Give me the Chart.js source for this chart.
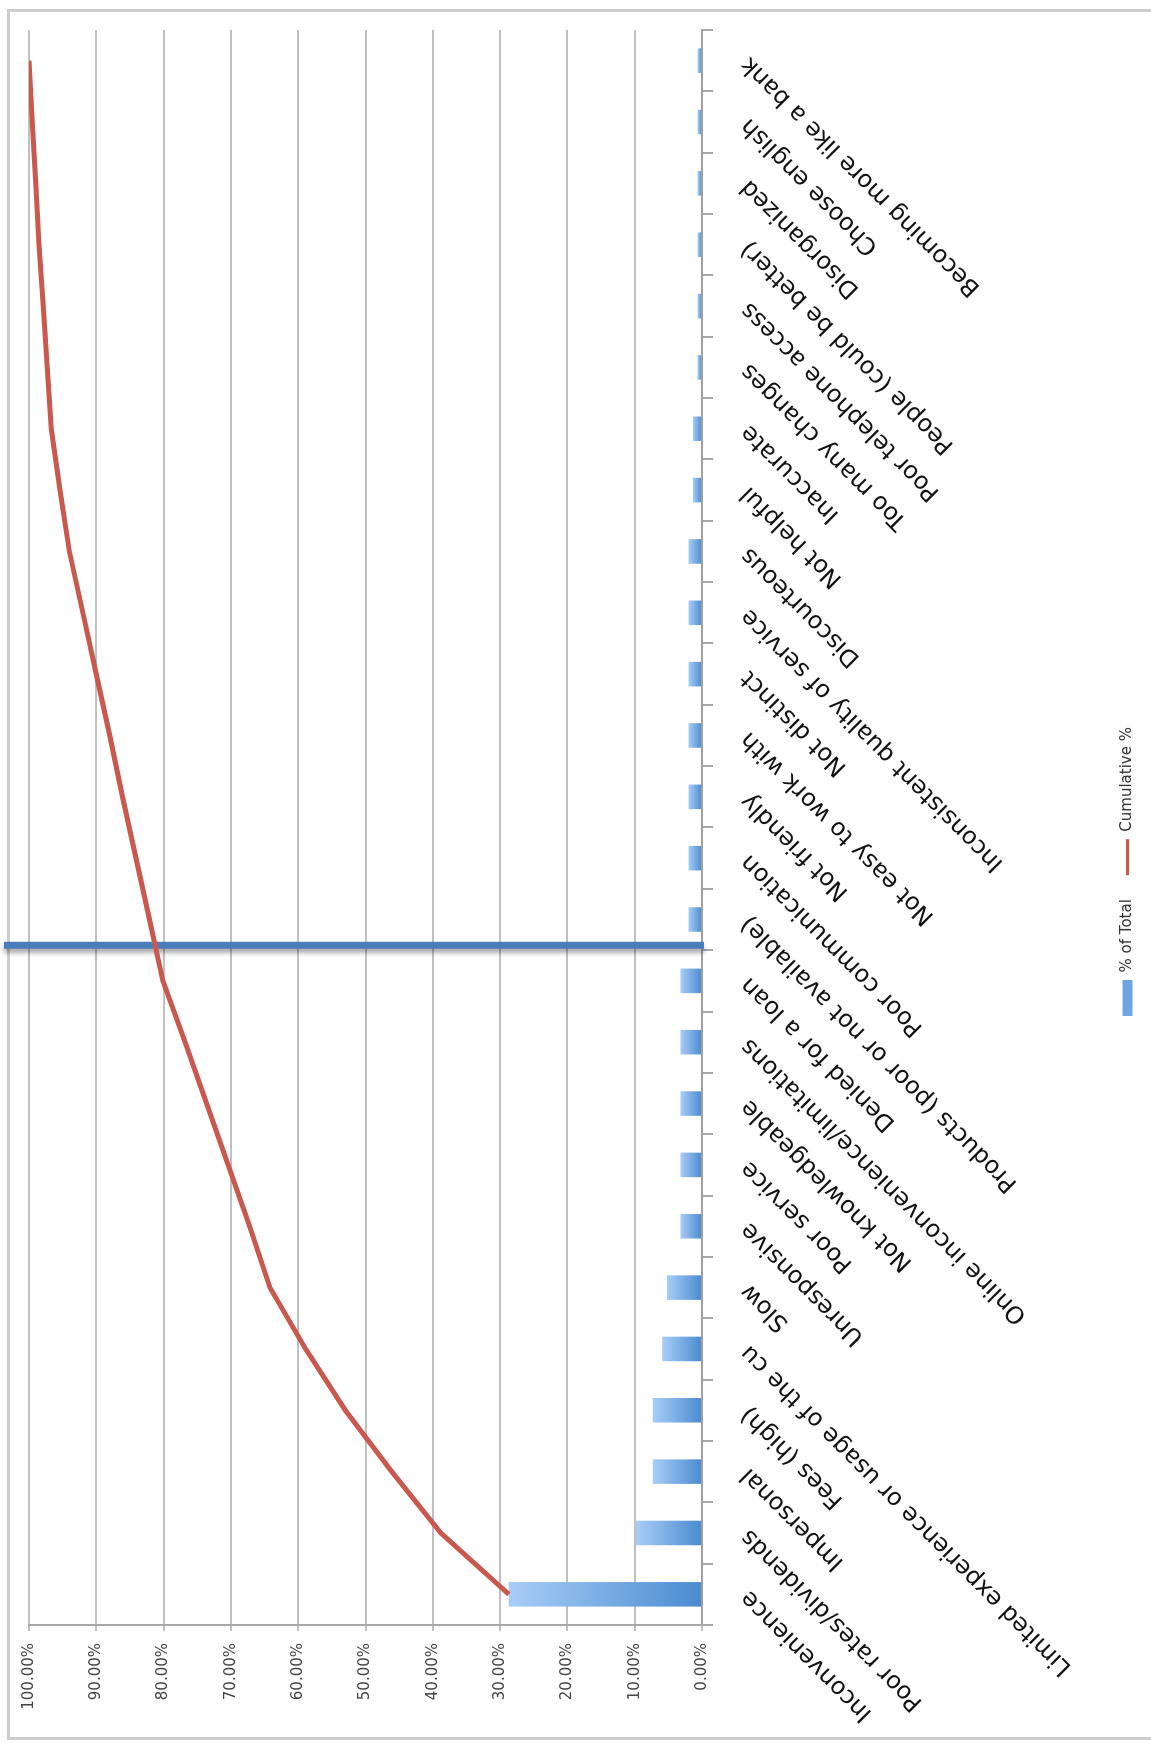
<!DOCTYPE html>
<html>
<head>
<meta charset="utf-8">
<title>Pareto of complaints</title>
<script src="https://cdn.jsdelivr.net/npm/chart.js@4.4.1/dist/chart.umd.min.js"></script>
<style>
  html, body { margin: 0; padding: 0; background: #fff; }
  #page { position: relative; width: 1151px; height: 1743px; overflow: hidden; background: #fff; }
  /* the chart is laid out landscape and turned a quarter to the left */
  #turn { position: absolute; left: 0; top: 0; width: 1743px; height: 1151px;
          transform-origin: 0 0; transform: translateY(1743px) rotate(-90deg); }
  #frame { position: absolute; left: 3px; top: 7px; width: 1731px; height: 1200px;
           border: 3px solid #cdcdcd; box-sizing: border-box; }
  #chart { position: absolute; left: 0; top: 0; }
</style>
</head>
<body>
<div id="page">
  <div id="turn">
    <div id="frame"></div>
    <canvas id="chart" width="1743" height="1151"></canvas>
  </div>
</div>
<script>
const categories = [
  'Inconvenience',
  'Poor rates/dividends',
  'Impersonal',
  'Fees (high)',
  'Limited experience or usage of the cu',
  'Slow',
  'Unresponsive',
  'Poor service',
  'Not knowledgeable',
  'Online inconvenience/limitations',
  'Denied for a loan',
  'Products (poor or not available)',
  'Poor communication',
  'Not friendly',
  'Not easy to work with',
  'Not distinct',
  'Inconsistent quality of service',
  'Discourteous',
  'Not helpful',
  'Inaccurate',
  'Too many changes',
  'Poor telephone access',
  'People (could be better)',
  'Disorganized',
  'Choose english',
  'Becoming more like a bank'
]

// % of Total
const shareOfTotal = [
  28.7, 9.8, 7.3, 7.3, 5.9, 5.2, 3.2, 3.2, 3.2, 3.2, 3.2, 2.0, 2.0,
  2.0, 2.0, 2.0, 2.0, 2.0, 1.35, 1.35, 0.65, 0.65, 0.65, 0.65, 0.65, 0.65
]

// Cumulative %
const cumulativeShare = [
  28.7, 38.8, 46.1, 53.0, 58.9, 64.2, 67.2, 70.4, 73.6, 76.8, 80.1, 82.1, 84.1,
  86.1, 88.0, 90.0, 92.0, 94.0, 95.4, 96.7, 97.3, 97.9, 98.5, 99.0, 99.5, 100.0
]

const valueTickLabels = [
  '0.00%', '10.00%', '20.00%', '30.00%', '40.00%', '50.00%',
  '60.00%', '70.00%', '80.00%', '90.00%', '100.00%'
]

// the 80% cut-off marker sits just past "Denied for a loan", in category units
const cutoffPosition = 10.58

const FONT = 'DejaVu Sans'

function barFill(context) {
  const chart = context.chart
  const y = chart.scales.y
  if (context.type !== 'data' || !y) {
    return '#6fa6e2'
  }
  const top = y.getPixelForValue(context.raw)
  const bottom = y.getPixelForValue(0)
  if (!isFinite(top) || !isFinite(bottom) || top === bottom) {
    return '#6fa6e2'
  }
  const g = chart.ctx.createLinearGradient(0, top, 0, bottom)
  g.addColorStop(0, '#a8cdf7')
  g.addColorStop(1, '#4a8bd0')
  return g
}

const cutoffLine = {
  id: 'cutoffLine',
  beforeDatasetsDraw(chart) {
    const x = chart.scales.x
    const y = chart.scales.y
    const i = Math.floor(cutoffPosition)
    const a = x.getPixelForValue(i)
    const b = x.getPixelForValue(i + 1)
    const px = a + (cutoffPosition - i) * (b - a)
    const ctx = chart.ctx
    ctx.save()
    ctx.shadowColor = 'rgba(0, 0, 0, 0.35)'
    ctx.shadowBlur = 5
    ctx.shadowOffsetX = -4
    ctx.strokeStyle = '#4a7ebb'
    ctx.lineWidth = 7
    ctx.beginPath()
    ctx.moveTo(px, 4)
    ctx.lineTo(px, y.getPixelForValue(0) + 2)
    ctx.stroke()
    ctx.restore()
  }
}

new Chart(document.getElementById('chart'), {
  type: 'bar',
  data: {
    labels: categories,
    datasets: [
      {
        label: '% of Total',
        data: shareOfTotal,
        backgroundColor: barFill,
        borderWidth: 0,
        barPercentage: 0.4,
        categoryPercentage: 1,
        pointStyle: 'rect',
        order: 1
      },
      {
        type: 'line',
        label: 'Cumulative %',
        data: cumulativeShare,
        borderColor: '#c9594f',
        backgroundColor: '#c9594f',
        borderWidth: 5,
        pointRadius: 0,
        tension: 0,
        fill: false,
        pointStyle: 'line',
        order: 0
      }
    ]
  },
  options: {
    responsive: false,
    devicePixelRatio: 1,
    animation: false,
    layout: {
      padding: { top: 29, left: 0, right: 0, bottom: 6 }
    },
    plugins: {
      tooltip: { enabled: false },
      legend: {
        position: 'bottom',
        labels: {
          font: { family: FONT, size: 15 },
          color: '#333',
          usePointStyle: true,
          pointStyleWidth: 36,
          boxHeight: 10,
          padding: 24,
          sort: (a, b) => a.datasetIndex - b.datasetIndex,
          generateLabels(chart) {
            const items = Chart.defaults.plugins.legend.labels.generateLabels(chart)
            items.forEach(item => {
              if (item.datasetIndex === 0) {
                item.fillStyle = '#6ea5e3'
                item.strokeStyle = '#6ea5e3'
                item.lineWidth = 0
              } else {
                item.strokeStyle = '#c9594f'
                item.lineWidth = 3
              }
            })
            return items
          }
        }
      }
    },
    scales: {
      x: {
        offset: true,
        grid: {
          offset: true,
          drawOnChartArea: false,
          drawTicks: true,
          tickLength: 11,
          color: '#a8a8a8',
          lineWidth: 2
        },
        border: { display: true, color: '#a0a0a0', width: 2 },
        ticks: {
          autoSkip: false,
          minRotation: 45,
          maxRotation: 45,
          padding: 22,
          color: '#111',
          font: { family: FONT, size: 24 }
        },
        afterFit(scale) {
          scale.height = 394
          scale.paddingLeft = 0
          scale.paddingRight = 30
        }
      },
      y: {
        min: 0,
        max: 100,
        grid: {
          color: '#c0c0c0',
          lineWidth: 2,
          tickLength: 6
        },
        border: { display: true, color: '#a8a8a8', width: 2 },
        ticks: {
          stepSize: 10,
          padding: 12,
          color: '#444',
          font: { family: FONT, size: 15 },
          callback: (value, index) => valueTickLabels[index]
        },
        afterFit(scale) {
          scale.width = 118
          scale.paddingTop = 0
          scale.paddingBottom = 0
        }
      }
    }
  },
  plugins: [cutoffLine]
})
</script>
</body>
</html>
